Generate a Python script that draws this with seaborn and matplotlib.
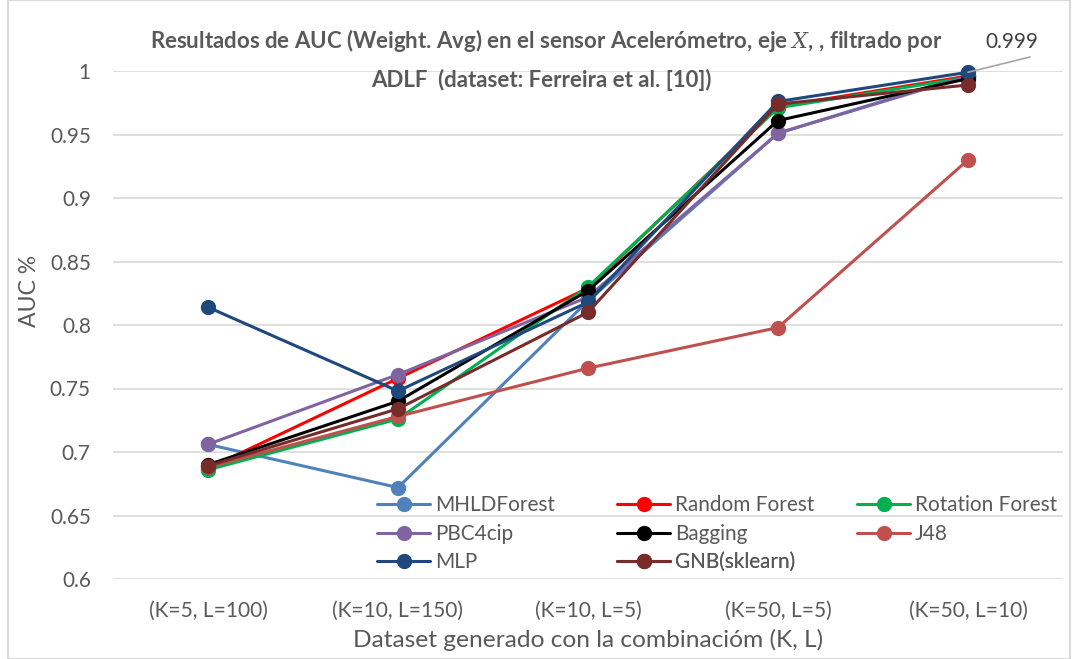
import numpy as np
import pandas as pd
import matplotlib
matplotlib.use("Agg")
import matplotlib.pyplot as plt
import seaborn as sns
from matplotlib.patches import Rectangle
from matplotlib.lines import Line2D

categories = ["(K=5, L=100)", "(K=10, L=150)", "(K=10, L=5)", "(K=50, L=5)", "(K=50, L=10)"]
models = ["MHLDForest", "Random Forest", "Rotation Forest", "PBC4cip", "Bagging", "J48", "MLP", "GNB(sklearn)"]
mhldforest = [0.706, 0.672, 0.819, 0.951, 0.997]
random_forest = [0.687, 0.758, 0.829, 0.972, 0.996]
rotation_forest = [0.686, 0.726, 0.830, 0.971, 0.995]
pbc4cip = [0.706, 0.761, 0.822, 0.951, 0.996]
bagging = [0.690, 0.740, 0.827, 0.961, 0.994]
j48 = [0.688, 0.728, 0.766, 0.798, 0.930]
mlp = [0.814, 0.748, 0.818, 0.976, 0.999]
gnb = [0.689, 0.734, 0.810, 0.974, 0.989]
colors = ["#4F81BD", "#FF0000", "#00B050", "#8064A2", "#000000", "#C0504D", "#1F497D", "#772C2A"]

series = [mhldforest, random_forest, rotation_forest, pbc4cip, bagging, j48, mlp, gnb]
rows = []
for m, vals in zip(models, series):
    for i, v in enumerate(vals):
        rows.append({"model": m, "pos": i, "auc": v})
df = pd.DataFrame(rows)

sns.set_theme(style="white")
FAM = ["Lato", "DejaVu Sans"]
plt.rcParams["font.family"] = FAM
plt.rcParams["mathtext.fontset"] = "custom"
plt.rcParams["mathtext.it"] = "DejaVu Serif:italic"
plt.rcParams["mathtext.rm"] = "Lato"

W, H = 1078, 659
fig = plt.figure(figsize=(W / 100, H / 100), dpi=100)
renderer = fig.canvas.get_renderer()


def fit(text, target_px, **kw):
    t = fig.text(0, 0, text, fontsize=10, **kw)
    w = t.get_window_extent(renderer).width
    t.remove()
    return 10 * target_px / w


GRAY = "#595959"
fs_xtick = fit("(K=5, L=100)", 118)
fs_ytick = fit("0.95", 41)
fs_xlabel = fit("Dataset generado con la combinacióm (K, L)", 470)
fs_ylabel = fit("AUC %", 72)
fs_leg = fit("MHLDForest", 120)
title1 = r"Resultados de AUC (Weight. Avg) en el sensor Acelerómetro, eje $X$, , filtrado por"
fs_title = fit(title1, 793, fontweight="bold")

ax = fig.add_axes([113 / W, 1 - 579 / H, 950 / W, 508 / H])

sns.lineplot(data=df, x="pos", y="auc", hue="model", hue_order=models,
             palette=dict(zip(models, colors)), marker="o", markersize=11,
             markeredgewidth=0, linewidth=2.2, sort=False, ax=ax, clip_on=False,
             legend=False)

ax.set_xlim(-0.5, 4.5)
ax.set_ylim(0.6, 1.0)
ax.set_yticks(np.arange(0.6, 1.0001, 0.05))
ax.set_yticklabels(["0.6", "0.65", "0.7", "0.75", "0.8", "0.85", "0.9", "0.95", "1"])
ax.set_xticks(range(len(categories)))
ax.set_xticklabels(categories)
ax.grid(axis="y", color="#D9D9D9", linewidth=1.2)
ax.set_axisbelow(True)
for s in ax.spines.values():
    s.set_visible(False)
ax.tick_params(axis="x", colors=GRAY, labelsize=fs_xtick, length=0, pad=16)
ax.tick_params(axis="y", colors=GRAY, labelsize=fs_ytick, length=0, pad=16)
ax.set_xlabel("Dataset generado con la combinacióm (K, L)", fontsize=fs_xlabel, color=GRAY)
ax.set_ylabel("AUC %", fontsize=fs_ylabel, color=GRAY)
ax.xaxis.set_label_coords(588 / W, 1 - 640 / H, transform=fig.transFigure)
ax.yaxis.set_label_coords(30 / W, 1 - 291 / H, transform=fig.transFigure)
ax.xaxis.label.set_va("center")
ax.yaxis.label.set_va("center")

# legend: each entry at its own slot (Excel fixed grid)
col_x = [377, 617, 857]
row_y = [505, 534, 562]
grid = [(0, 0), (0, 1), (0, 2), (1, 0), (1, 1), (1, 2), (2, 0), (2, 1)]
em = fs_leg * 100 / 72
for m, c, (r, cc) in zip(models, colors, grid):
    h = Line2D([], [], color=c, lw=2.2, marker="o", markersize=11, markeredgewidth=0)
    lg = ax.legend([h], [m], loc="center left", frameon=False,
                   bbox_to_anchor=(col_x[cc] / W, 1 - row_y[r] / H), bbox_transform=fig.transFigure,
                   fontsize=fs_leg, labelcolor=GRAY, handlelength=53 / em,
                   handletextpad=5 / em, borderpad=0, borderaxespad=0)
    ax.add_artist(lg)

ax.annotate("", xy=(4, mlp[4]), xytext=(1030 / W, 1 - 57 / H), textcoords="figure fraction",
            arrowprops=dict(arrowstyle="-", color="#A6A6A6", lw=1.2, shrinkA=0, shrinkB=0))
fig.text(1012 / W, 1 - 42 / H, "0.999", fontsize=fs_ytick, color="#404040", ha="center", va="center")

fig.text(546 / W, 1 - 40 / H, title1,
         ha="center", va="center", fontsize=fs_title, fontweight="bold", color=GRAY)
fig.text(541 / W, 1 - 80 / H, "ADLF  (dataset: Ferreira et al. [10])",
         ha="center", va="center", fontsize=fs_title, fontweight="bold", color=GRAY)

fig.patches.append(Rectangle((8 / W, 0.0), 1 - 16 / W, 1.0, transform=fig.transFigure,
                             fill=False, edgecolor="#D9D9D9", linewidth=1.5))

fig.savefig("out.png", dpi=100)
